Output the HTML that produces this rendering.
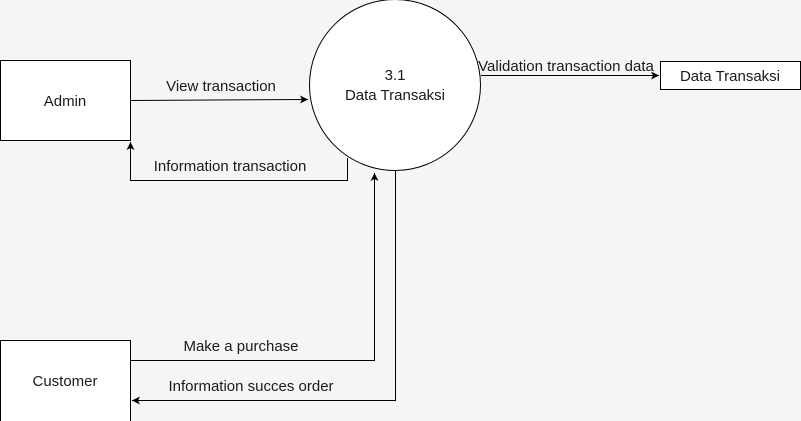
<!DOCTYPE html>
<html><head><style>html,body{margin:0;padding:0;background:#f5f5f5;}svg{display:block}</style></head>
<body>
<svg width="801" height="421" viewBox="0 0 801 421" xmlns="http://www.w3.org/2000/svg" font-family="Liberation Sans, sans-serif" font-size="15" fill="#1a1a1a">
<rect width="801" height="421" fill="#f5f5f5"/>
<defs><marker id="a" markerWidth="10" markerHeight="10" refX="8" refY="5" orient="auto" markerUnits="userSpaceOnUse"><path d="M0,1 L8,5 L0,9 L2,5 Z" fill="#000"/></marker></defs>
<rect x="0.5" y="60.5" width="130" height="80" fill="#fff" stroke="#000"/>
<text x="65" y="106" text-anchor="middle">Admin</text>
<rect x="0.5" y="340.5" width="130" height="90" fill="#fff" stroke="#000"/>
<text x="65" y="386" text-anchor="middle">Customer</text>
<circle cx="395" cy="85" r="85.5" fill="#fff" stroke="#000"/>
<text x="395" y="80" text-anchor="middle">3.1</text>
<text x="395" y="100" text-anchor="middle">Data Transaksi</text>
<rect x="660.5" y="61.5" width="140" height="28" fill="#fff" stroke="#000"/>
<text x="730" y="81" text-anchor="middle">Data Transaksi</text>
<g stroke="#000" fill="none" stroke-width="1">
<line x1="131" y1="100.5" x2="308" y2="99.5" marker-end="url(#a)"/>
<polyline points="347.5,158 347.5,180.5 130.5,180.5 130.5,142" marker-end="url(#a)"/>
<polyline points="131,360.5 374.5,360.5 374.5,173" marker-end="url(#a)"/>
<polyline points="395.5,171 395.5,400.5 132,400.5" marker-end="url(#a)"/>
<line x1="481" y1="75.5" x2="659" y2="75.5" marker-end="url(#a)"/>
</g>
<text x="221" y="91" text-anchor="middle">View transaction</text>
<text x="230" y="171" text-anchor="middle">Information transaction</text>
<text x="241" y="351" text-anchor="middle">Make a purchase</text>
<text x="251" y="391" text-anchor="middle">Information succes order</text>
<text x="566" y="71" text-anchor="middle">Validation transaction data</text>
</svg>
</body></html>
